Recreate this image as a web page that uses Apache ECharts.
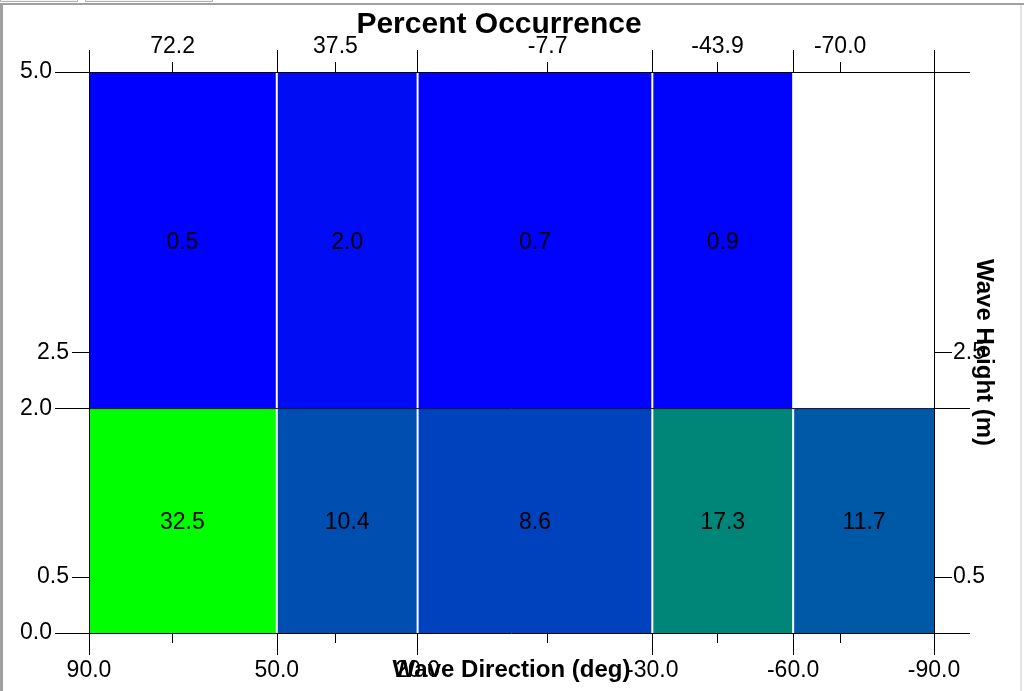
<!DOCTYPE html>
<html><head><meta charset="utf-8">
<script src="https://cdn.jsdelivr.net/npm/echarts@6/dist/echarts.min.js"></script>
<style>html,body{margin:0;padding:0;background:#fff}#chart{width:1024px;height:691px}</style>
</head><body><div id="chart"></div>
<script>
// ---- data ----
const dirEdges = [90, 50, 20, -30, -60, -90];      // wave direction bin edges (deg)
const heightEdges = [0, 2, 5];                     // wave height bin edges (m)
const meanDir = [72.2, 37.5, -7.7, -43.9, -70.0];  // top tick labels
const meanHeight = [0.5, 2.5];                     // inner height tick labels
const occLow = [32.5, 10.4, 8.6, 17.3, 11.7];      // 0-2 m row
const occHigh = [0.5, 2.0, 0.7, 0.9, null];        // 2-5 m row
const occRows = [occLow, occHigh];

const FONT = '"Liberation Sans", Arial, sans-serif';
const cells = [];
occRows.forEach((row, r) => row.forEach((v, c) => {
  if (v == null) return;
  cells.push([dirEdges[c], dirEdges[c + 1], heightEdges[r], heightEdges[r + 1], v, c]);
}));
const allVals = cells.map(d => d[4]);
const lastCol = dirEdges.length - 2;

function renderCell(params, api) {
  const p0 = api.coord([api.value(0), api.value(3)]);
  const p1 = api.coord([api.value(1), api.value(2)]);
  const col = api.value(5);
  const left = Math.min(p0[0], p1[0]) + (col > 0 ? 1 : 0);
  const right = Math.max(p0[0], p1[0]) - (col < lastCol ? 1 : 0);
  const top = Math.min(p0[1], p1[1]);
  const bottom = Math.max(p0[1], p1[1]);
  return {
    type: 'rect',
    shape: { x: left, y: top, width: right - left, height: bottom - top },
    style: { fill: api.visual('color') },
    textContent: { style: { text: api.value(4).toFixed(1), fontSize: 23, fontFamily: FONT, fill: '#000' } },
    textConfig: { position: 'inside', offset: [0, 2] }
  };
}

const sepData = [];
heightEdges.slice(1, -1).forEach(h => {
  sepData.push([dirEdges[0], h], [dirEdges[dirEdges.length - 1], h]);
});

const lineSt = { color: '#000', width: 1 };
const lbl = { fontSize: 23, fontFamily: FONT, color: '#000' };
const fmt = v => Number(v).toFixed(1);
const xBase = { type: 'value', min: -90, max: 90, inverse: true, splitLine: { show: false }, z: 10 };
const yBase = { type: 'value', min: 0, max: 5, splitLine: { show: false }, z: 10 };
const axLine = { show: true, onZero: false, lineStyle: lineSt };
const noLine = { show: false, onZero: false };

const option = {
  animation: false,
  backgroundColor: '#fff',
  title: {
    text: 'Percent Occurrence', left: 499, top: 10, textAlign: 'center', padding: 0,
    textStyle: { fontSize: 30, fontWeight: 'bold', color: '#000', fontFamily: FONT }
  },
  grid: { left: 89, right: 90, top: 72, bottom: 58, containLabel: false, outerBoundsMode: 'none' },
  visualMap: {
    type: 'continuous', show: false, seriesIndex: 0, dimension: 4,
    min: Math.min(...allVals), max: Math.max(...allVals),
    inRange: { color: ['#0000ff', '#00ff00'] }
  },
  xAxis: [
    Object.assign({}, xBase, {
      position: 'bottom', axisLine: axLine,
      axisTick: { show: true, customValues: dirEdges, length: 22, lineStyle: lineSt },
      axisLabel: Object.assign({ customValues: dirEdges, formatter: fmt, margin: 26, showMinLabel: true, showMaxLabel: true }, lbl),
      name: 'Wave Direction (deg)', nameLocation: 'middle', nameGap: 25, nameMoveOverlap: false,
      nameTextStyle: { fontSize: 24, fontWeight: 'bold', color: '#000', fontFamily: FONT }
    }),
    Object.assign({}, xBase, {
      position: 'bottom', axisLine: noLine,
      axisTick: { show: true, customValues: meanDir, length: 10, lineStyle: lineSt },
      axisLabel: { show: false }
    }),
    Object.assign({}, xBase, {
      position: 'top', axisLine: axLine,
      axisTick: { show: true, customValues: dirEdges, length: 22, lineStyle: lineSt },
      axisLabel: { show: false }
    }),
    Object.assign({}, xBase, {
      position: 'top', axisLine: noLine,
      axisTick: { show: true, customValues: meanDir, length: 10, lineStyle: lineSt },
      axisLabel: Object.assign({ customValues: meanDir, formatter: fmt, margin: 14, showMinLabel: true, showMaxLabel: true }, lbl)
    })
  ],
  yAxis: [
    Object.assign({}, yBase, {
      position: 'left', axisLine: axLine,
      axisTick: { show: true, customValues: heightEdges, length: 34, lineStyle: lineSt },
      axisLabel: Object.assign({ customValues: heightEdges, formatter: fmt, margin: 37, showMinLabel: true, showMaxLabel: true }, lbl)
    }),
    Object.assign({}, yBase, {
      position: 'left', axisLine: noLine,
      axisTick: { show: true, customValues: meanHeight, length: 17, lineStyle: lineSt },
      axisLabel: Object.assign({ customValues: meanHeight, formatter: fmt, margin: 20 }, lbl)
    }),
    Object.assign({}, yBase, {
      position: 'right', axisLine: axLine,
      axisTick: { show: true, customValues: heightEdges, length: 36, lineStyle: lineSt },
      axisLabel: { show: false },
      name: 'Wave Height (m)', nameLocation: 'middle', nameRotate: -90, nameGap: 38, nameMoveOverlap: false,
      nameTextStyle: { fontSize: 24, fontWeight: 'bold', color: '#000', fontFamily: FONT }
    }),
    Object.assign({}, yBase, {
      position: 'right', axisLine: noLine,
      axisTick: { show: true, customValues: meanHeight, length: 18, lineStyle: lineSt },
      axisLabel: Object.assign({ customValues: meanHeight, formatter: fmt, margin: 19 }, lbl)
    })
  ],
  series: [
    {
      type: 'custom', xAxisIndex: 0, yAxisIndex: 0, silent: true,
      encode: { x: [0, 1], y: [2, 3] }, data: cells, renderItem: renderCell, z: 2
    },
    {
      type: 'line', xAxisIndex: 0, yAxisIndex: 0, silent: true, symbol: 'none',
      data: sepData, lineStyle: { color: '#101030', width: 1 }, z: 3
    }
  ],
  graphic: [
    { type: 'rect', shape: { x: 0, y: 3, width: 1024, height: 2 }, style: { fill: '#a0a0a0' }, silent: true },
    { type: 'rect', shape: { x: 0, y: 3, width: 3, height: 688 }, style: { fill: '#a0a0a0' }, silent: true },
    { type: 'rect', shape: { x: 1020, y: 5, width: 2, height: 686 }, style: { fill: '#e2e2e2' }, silent: true },
    { type: 'rect', shape: { x: 0.5, y: -2, width: 77, height: 3.5 }, style: { fill: '#f4f4f4', stroke: '#b0b0b0', lineWidth: 1 }, silent: true },
    { type: 'rect', shape: { x: 85.5, y: -2, width: 127, height: 3.5 }, style: { fill: '#f4f4f4', stroke: '#b0b0b0', lineWidth: 1 }, silent: true }
  ]
};
echarts.init(document.getElementById('chart')).setOption(option);
</script></body></html>
